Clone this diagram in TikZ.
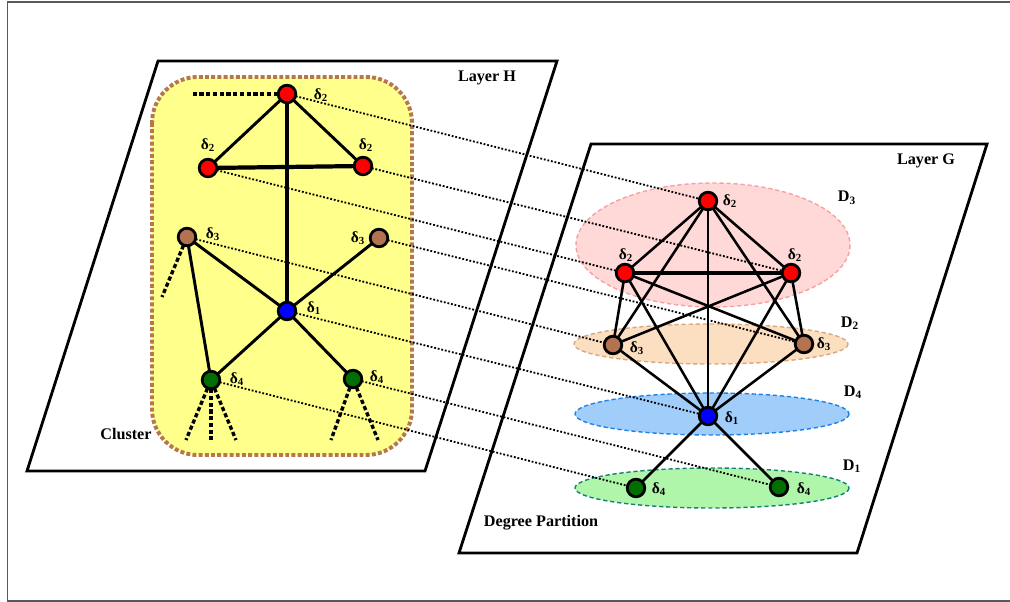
\documentclass[tikz,border=0pt]{standalone}
\usepackage{fontspec}
\setmainfont{Liberation Serif}
\usetikzlibrary{positioning,calc}

\definecolor{clusteryellow}{RGB}{255,255,140}
\definecolor{clusterbrown}{RGB}{180,120,80}
\definecolor{vbrown}{RGB}{180,115,80}
\definecolor{vgreen}{RGB}{0,110,0}
\definecolor{pinkfill}{RGB}{255,216,216}
\definecolor{pinkline}{RGB}{250,160,160}
\definecolor{orangefill}{RGB}{252,222,192}
\definecolor{orangeline}{RGB}{215,170,130}
\definecolor{bluefill}{RGB}{160,205,250}
\definecolor{blueline}{RGB}{30,130,230}
\definecolor{greenfill}{RGB}{175,245,170}
\definecolor{greenline}{RGB}{20,130,120}

\begin{document}
\begin{tikzpicture}[x=0.025cm,y=-0.025cm,
    vtx/.style={circle,inner sep=0pt,minimum size=0.44cm},
    lbl/.style={inner sep=0pt,font=\fontsize{11}{13}\selectfont\bfseries},
    title/.style={inner sep=0pt,font=\fontsize{11.5}{13}\selectfont\bfseries},
    edge/.style={line width=2.1pt},
    stub/.style={line width=2.4pt,dash pattern=on 3pt off 1.8pt},
    map/.style={line width=1.3pt,dash pattern=on 1.3pt off 1.3pt},
    part/.style={line width=1pt,dash pattern=on 3pt off 2pt}]
    \useasboundingbox (0,0) rectangle (1010,602);

    % Frame
    \draw[gray!70!black,line width=1pt] (7.5,2) rectangle (1020,601);

    % Layers
    \draw[line width=2pt,fill=white] (158,61) -- (557,61) -- (425,471) -- (27,471) -- cycle;
    \draw[line width=2pt,fill=white] (591,144) -- (987,144) -- (857,553) -- (459,553) -- cycle;
    \node[title] (layerH) at (487,78) {Layer H};
    \node[title] (layerG) at (926,161) {Layer G};
    \node[title] (cluster) at (126,434) {Cluster};
    \node[title] (degpart) at (541,523) {Degree Partition};

    % Cluster
    \draw[clusterbrown,fill=clusteryellow,line width=2.8pt,dash pattern=on 2.8pt off 1.6pt,
        rounded corners=1.15cm] (152,77) rectangle (412,455);

    % Degree partition
    \draw[part,pinkline,fill=pinkfill] (713,245) ellipse (137 and 62);
    \draw[part,orangeline,fill=orangefill] (711,344) ellipse (137 and 20);
    \draw[part,blueline,fill=bluefill] (712,414) ellipse (137 and 21);
    \draw[part,greenline,fill=greenfill] (712,488) ellipse (137 and 20);
    \node[title] (D3) at (847,198) {D\textsubscript{3}};
    \node[title] (D2) at (850,323) {D\textsubscript{2}};
    \node[title] (D4) at (853,392) {D\textsubscript{4}};
    \node[title] (D1) at (852,466) {D\textsubscript{1}};

    % Vertices of H
    \node[vtx] (h1) at (287,94) {};
    \node[vtx] (h2) at (208,168) {};
    \node[vtx] (h3) at (363,166) {};
    \node[vtx] (h4) at (187,237) {};
    \node[vtx] (h5) at (379,238) {};
    \node[vtx] (h6) at (287,311) {};
    \node[vtx] (h7) at (211,380) {};
    \node[vtx] (h8) at (353,379) {};

    % Vertices of G
    \node[vtx] (g1) at (708,201) {};
    \node[vtx] (g2) at (625,273) {};
    \node[vtx] (g3) at (791,273) {};
    \node[vtx] (g4) at (613,345) {};
    \node[vtx] (g5) at (804,344) {};
    \node[vtx] (g6) at (708,416) {};
    \node[vtx] (g7) at (636,488) {};
    \node[vtx] (g8) at (779,487) {};

    % H -> G
    \foreach \i in {1,...,8}
        \draw[map] (h\i) -- (g\i);

    % Edges of H
    \coordinate (s1) at (193,94);
    \coordinate (s2) at (162,297);
    \coordinate (s3) at (186,440);
    \coordinate (s4) at (211,440);
    \coordinate (s5) at (236,440);
    \coordinate (s6) at (331,440);
    \coordinate (s7) at (378,440);
    \draw[stub,line width=3pt] (h1) -- (s1);
    \draw[stub] (h4) -- (s2);
    \draw[stub] (h7) -- (s3);
    \draw[stub,line width=3.4pt] (h7) -- (s4);
    \draw[stub] (h7) -- (s5);
    \draw[stub] (h8) -- (s6);
    \draw[stub] (h8) -- (s7);
    \draw[edge] (h1) -- (h2);
    \draw[edge] (h1) -- (h3);
    \draw[edge,line width=3pt] (h2) -- (h3);
    \draw[edge,line width=3pt] (h1) -- (h6);
    \draw[edge] (h4) -- (h6);
    \draw[edge] (h5) -- (h6);
    \draw[edge] (h4) -- (h7);
    \draw[edge] (h6) -- (h7);
    \draw[edge] (h6) -- (h8);

    % Edges of G
    \foreach \a/\b in {g1/g2,g1/g3,g1/g4,g1/g5,g1/g6,g2/g4,g2/g5,g2/g6,
                       g3/g4,g3/g5,g3/g6,g4/g6,g5/g6,g6/g7,g6/g8}
        \draw[edge,line width=1.8pt] (\a) -- (\b);
    \draw[edge,line width=3pt] (g2) -- (g3);

    % vertex discs on top of the edges
    \foreach \v/\c in {h1/red,h2/red,h3/red,h4/vbrown,h5/vbrown,h6/blue,h7/vgreen,h8/vgreen,
                       g1/red,g2/red,g3/red,g4/vbrown,g5/vbrown,g6/blue,g7/vgreen,g8/vgreen}
        \draw[line width=2pt,fill=\c] (\v) circle (0.22cm);

    % Degree labels
    \node[lbl] (lh1) at (321,95) {δ\textsubscript{2}};
    \node[lbl] (lh2) at (208,145) {δ\textsubscript{2}};
    \node[lbl] (lh3) at (366,145) {δ\textsubscript{2}};
    \node[lbl] (lh4) at (213,234) {δ\textsubscript{3}};
    \node[lbl] (lh5) at (358,238) {δ\textsubscript{3}};
    \node[lbl] (lh6) at (314,308) {δ\textsubscript{1}};
    \node[lbl] (lh7) at (237,379) {δ\textsubscript{4}};
    \node[lbl] (lh8) at (377,377) {δ\textsubscript{4}};
    \node[lbl] (lg1) at (730,201) {δ\textsubscript{2}};
    \node[lbl] (lg2) at (626,255) {δ\textsubscript{2}};
    \node[lbl] (lg3) at (795,255) {δ\textsubscript{2}};
    \node[lbl] (lg4) at (637,348) {δ\textsubscript{3}};
    \node[lbl] (lg5) at (824,344) {δ\textsubscript{3}};
    \node[lbl] (lg6) at (732,418) {δ\textsubscript{1}};
    \node[lbl] (lg7) at (659,489) {δ\textsubscript{4}};
    \node[lbl] (lg8) at (804,489) {δ\textsubscript{4}};
\end{tikzpicture}
\end{document}
